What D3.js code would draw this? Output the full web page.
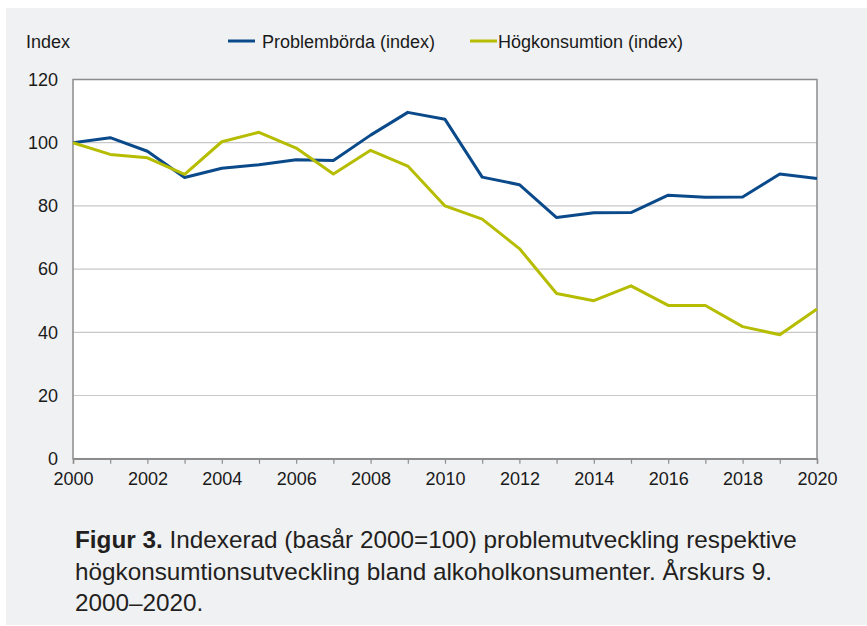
<!DOCTYPE html>
<html>
<head>
<meta charset="utf-8">
<script src="https://cdn.jsdelivr.net/npm/d3@7"></script>
<style>
  body { margin: 0; background: #fff; }
  svg { display: block; font-family: "Liberation Sans", Arial, sans-serif; }
</style>
</head>
<body>
<svg class="chart" width="867" height="626"></svg>
<script>
var years = d3.range(2000, 2021);
var problemborda = [100, 101.6, 97.3, 89.0, 91.9, 93.0, 94.6, 94.4, 102.4, 109.6, 107.4,
                    89.1, 86.7, 76.3, 77.8, 77.9, 83.4, 82.7, 82.8, 90.1, 88.7];
var hogkonsumtion = [100, 96.3, 95.2, 90.0, 100.3, 103.3, 98.3, 90.1, 97.6, 92.6, 80.0,
                     75.8, 66.5, 52.3, 50.0, 54.7, 48.5, 48.5, 41.8, 39.2, 47.4];
var yTicks = [0, 20, 40, 60, 80, 100, 120];
var xLabels = d3.range(2000, 2021, 2);
var seriesNames = ["Problembörda (index)", "Högkonsumtion (index)"];
var captionLines = [
  ["Figur 3.", " Indexerad (basår 2000=100) problemutveckling respektive"],
  ["", "högkonsumtionsutveckling bland alkoholkonsumenter. Årskurs 9."],
  ["", "2000–2020."]
];

var blue = "#0b4a8a";   // problembörda
var green = "#b6bd00";  // högkonsumtion
var frame_color = "#8c8c8c";
var grid_color = "#c8c8c8";

var svg = d3.select(".chart");

// grey panel
svg.append("rect")
    .attr("x", 6).attr("y", 8)
    .attr("width", 861).attr("height", 617)
    .attr("fill", "#f0f1f3");

var mLeft = 73, mRight = 817, mTop = 79.5, mBottom = 458.7;

var x = d3.scaleLinear().domain([2000, 2020]).range([mLeft, mRight]);
var y = d3.scaleLinear().domain([0, 120]).range([mBottom, mTop]);

svg.append("rect")
    .attr("x", mLeft).attr("y", mTop)
    .attr("width", mRight - mLeft).attr("height", mBottom - mTop)
    .attr("fill", "#fff");

// gridlines
svg.append("g")
    .selectAll("line")
    .data(yTicks.filter(function(d) { return d > 0 && d < 120; }))
    .enter().append("line")
    .attr("x1", mLeft).attr("x2", mRight)
    .attr("y1", function(d) { return y(d); })
    .attr("y2", function(d) { return y(d); })
    .attr("stroke", grid_color)
    .attr("stroke-width", 1.2);

// frame
svg.append("rect")
    .attr("x", mLeft).attr("y", mTop)
    .attr("width", mRight - mLeft).attr("height", mBottom - mTop)
    .attr("fill", "none")
    .attr("stroke", frame_color)
    .attr("stroke-width", 1.5);

// x axis
var xAxis = svg.append("g")
    .attr("transform", "translate(0," + mBottom + ")")
    .call(d3.axisBottom(x)
        .tickValues(years)
        .tickSize(5)
        .tickFormat(function(d) { return xLabels.indexOf(d) >= 0 ? d : ""; }));
xAxis.select(".domain").attr("stroke", frame_color).attr("stroke-width", 1.5);
xAxis.selectAll(".tick line").attr("stroke", frame_color).attr("stroke-width", 1.2);
xAxis.selectAll(".tick text")
    .attr("y", 14)
    .attr("dy", "0.71em")
    .attr("fill", "#1a1a1a")
    .style("font-size", "18px")
    .style("font-family", "Liberation Sans, Arial, sans-serif");

// y axis
var yAxis = svg.append("g")
    .attr("transform", "translate(" + mLeft + ",0)")
    .call(d3.axisLeft(y).tickValues(yTicks).tickSize(0).tickPadding(15));
yAxis.select(".domain").remove();
yAxis.selectAll(".tick text")
    .attr("fill", "#1a1a1a")
    .style("font-size", "18px")
    .style("font-family", "Liberation Sans, Arial, sans-serif");

// lines
var line = d3.line()
    .x(function(d, i) { return x(years[i]); })
    .y(function(d) { return y(d); });

svg.append("path")
    .attr("d", line(problemborda))
    .attr("fill", "none")
    .attr("stroke", blue)
    .attr("stroke-width", 3)
    .attr("stroke-linejoin", "round");

svg.append("path")
    .attr("d", line(hogkonsumtion))
    .attr("fill", "none")
    .attr("stroke", green)
    .attr("stroke-width", 3)
    .attr("stroke-linejoin", "round");

// axis title
svg.append("text")
    .attr("x", 26).attr("y", 47.5)
    .attr("fill", "#1a1a1a")
    .style("font-size", "18px")
    .text("Index");

// legend
var legend = [
  {name: seriesNames[0], color: blue, x0: 228, tx: 262},
  {name: seriesNames[1], color: green, x0: 470, tx: 498}
];
var lg = svg.append("g").selectAll("g").data(legend).enter().append("g");
lg.append("line")
    .attr("x1", function(d) { return d.x0; })
    .attr("x2", function(d) { return d.x0 + 27; })
    .attr("y1", 41).attr("y2", 41)
    .attr("stroke", function(d) { return d.color; })
    .attr("stroke-width", 3);
lg.append("text")
    .attr("x", function(d) { return d.tx; })
    .attr("y", 47.5)
    .attr("fill", "#1a1a1a")
    .style("font-size", "18px")
    .text(function(d) { return d.name; });

// caption
var cap = svg.append("text")
    .attr("fill", "#231f20")
    .style("font-size", "24.3px");
captionLines.forEach(function(l, i) {
  var t = cap.append("tspan").attr("x", 75).attr("y", 548 + i * 31.7);
  if (l[0]) t.append("tspan").style("font-weight", "bold").text(l[0]);
  t.append("tspan").text(l[1]);
});
</script>
</body>
</html>
